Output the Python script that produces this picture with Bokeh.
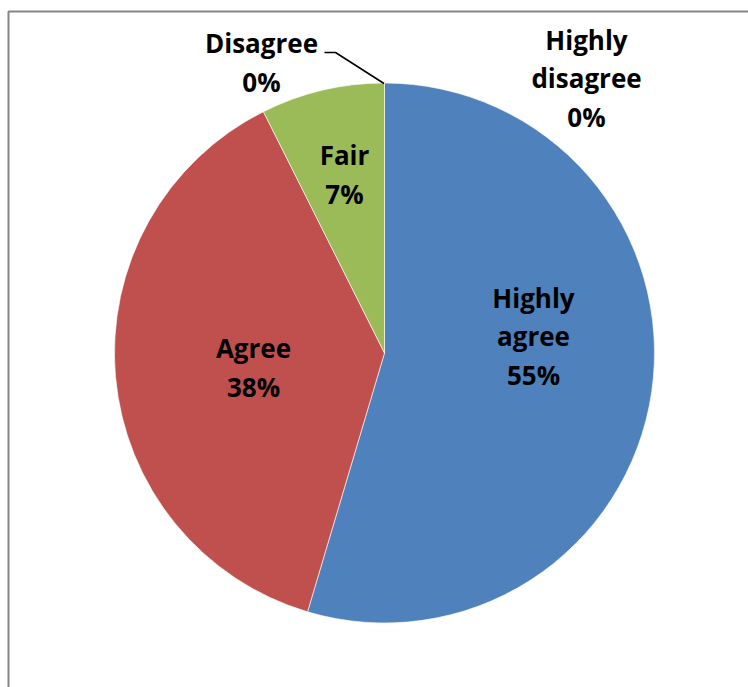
import math
from bokeh.plotting import figure
from bokeh.models import Range1d, ColumnDataSource
from bokeh.core.properties import value
from bokeh.embed import file_html
from bokeh.resources import INLINE

# ---- data ----
categories = ["Highly disagree", "Highly agree", "Agree", "Fair", "Disagree"]
shares = [0.0, 54.6, 38.0, 7.4, 0.0]
colors = ["#4F81BD", "#4F81BD", "#C0504D", "#9BBB59", "#9BBB59"]

# ---- layout (pixel coordinates, y measured from top) ----
W, H = 748, 687
CX, CY, R = 384, 352.5, 270
label_pos = [(586, 78), (533, 336), (253, 367), (344, 174), (261, 62)]
leader = [(324, 52), (335, 52), (383.5, 83)]

p = figure(width=W, height=H, output_backend="svg", toolbar_location=None,
           x_range=Range1d(0, W), y_range=Range1d(0, H), min_border=0)
p.axis.visible = False
p.grid.visible = False
p.outline_line_color = None
p.background_fill_color = "white"
p.border_fill_color = "white"

total = sum(shares)
starts, ends = [], []
cum = 0.0
for s in shares:
    starts.append(math.pi / 2 - 2 * math.pi * cum / total)
    cum += s
    ends.append(math.pi / 2 - 2 * math.pi * cum / total)

nz = [i for i, s in enumerate(shares) if s > 0]
src = ColumnDataSource(dict(
    x=[CX] * len(nz), y=[H - CY] * len(nz),
    start=[starts[i] for i in nz], end=[ends[i] for i in nz],
    color=[colors[i] for i in nz]))
p.wedge(x="x", y="y", radius=R, start_angle="start", end_angle="end",
        direction="clock", fill_color="color", line_color="white",
        line_width=1, line_alpha=0.6, source=src)

# frame
p.line(x=[8, 8, W + 20], y=[-20, H - 11, H - 11], line_color="#868686", line_width=2)

# leader line
p.line(x=[pt[0] for pt in leader], y=[H - pt[1] for pt in leader],
       line_color="black", line_width=1.5)

labels = [c.replace(" ", "\n") + "\n" + f"{round(s / total * 100):.0f}%" for c, s in zip(categories, shares)]
lsrc = ColumnDataSource(dict(x=[q[0] for q in label_pos], y=[H - q[1] for q in label_pos], t=labels))
p.text(x="x", y="y", text="t", source=lsrc, text_align="center", text_baseline="middle",
       text_font=value("Open Sans"), text_font_style="bold", text_font_size="26px",
       text_line_height=1.06, text_color="black")

open("out.html", "w").write(file_html(p, INLINE))
